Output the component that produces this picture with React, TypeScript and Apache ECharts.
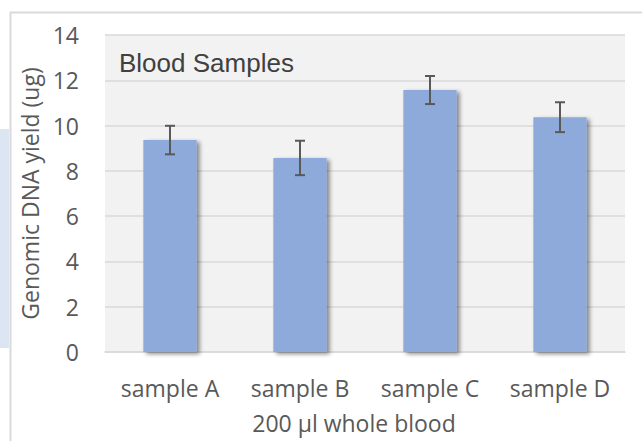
import React, { useEffect, useRef } from "react";
import * as echarts from "echarts";

const categories = ["sample A", "sample B", "sample C", "sample D"];
const yields = [9.36, 8.57, 11.57, 10.37];
const errors = [0.63, 0.76, 0.62, 0.66];
const chartTitle = "Blood Samples";
const xAxisTitle = "200 µl whole blood";
const yAxisTitle = "Genomic DNA yield (ug)";

export default function App() {
  const ref = useRef<HTMLDivElement>(null);
  useEffect(() => {
    if (!ref.current) return;
    const chart = echarts.init(ref.current, undefined, { renderer: "svg" });
    const errData = categories.map((_, i) => [i, yields[i] - errors[i], yields[i] + errors[i]]);
    const font = "'Open Sans', sans-serif";
    chart.setOption({
      animation: false,
      backgroundColor: "#ffffff",
      graphic: [
        { type: "rect", shape: { x: 0, y: 129, width: 9, height: 219 }, style: { fill: "#dce6f2" }, z: -10 },
        { type: "line", shape: { x1: 10.5, y1: 12, x2: 10.5, y2: 441 }, style: { stroke: "#d9d9d9", lineWidth: 2 } },
        { type: "line", shape: { x1: 10, y1: 12.5, x2: 642, y2: 12.5 }, style: { stroke: "#d9d9d9", lineWidth: 2 } },
        {
          type: "text",
          x: 119,
          y: 63,
          z: 10,
          style: {
            text: chartTitle,
            fill: "#404040",
            font: "26px 'Liberation Sans', Arial, sans-serif",
            textVerticalAlign: "middle",
          },
        },
      ],
      grid: {
        left: 105,
        right: 17,
        top: 35,
        bottom: 89,
        show: true,
        backgroundColor: "#f2f2f2",
        borderWidth: 0,
      },
      xAxis: {
        type: "category",
        data: categories,
        name: xAxisTitle,
        nameLocation: "middle",
        nameGap: 59,
        nameTextStyle: { color: "#595959", fontSize: 23, fontFamily: font, padding: [0, 22, 0, 0] },
        axisLine: { show: true, lineStyle: { color: "#d9d9d9", width: 1.5 } },
        axisTick: { show: false },
        axisLabel: { color: "#595959", fontSize: 23, fontFamily: font, margin: 24, interval: 0, hideOverlap: false },
      },
      yAxis: {
        type: "value",
        min: 0,
        max: 14,
        interval: 2,
        name: yAxisTitle,
        nameLocation: "middle",
        nameGap: 61,
        nameTextStyle: { color: "#595959", fontSize: 23, fontFamily: font },
        axisLine: { show: false },
        axisTick: { show: false },
        axisLabel: { color: "#595959", fontSize: 23, fontFamily: font, margin: 26 },
        splitLine: { show: true, lineStyle: { color: "#d9d9d9", width: 1.5 } },
      },
      series: [
        {
          type: "bar",
          data: yields,
          barWidth: "41%",
          itemStyle: {
            color: "#8eaadb",
            shadowColor: "rgba(0,0,0,0.45)",
            shadowBlur: 4,
            shadowOffsetX: 3,
            shadowOffsetY: 2,
          },
        },
        {
          type: "custom",
          data: errData,
          encode: { x: 0, y: [1, 2] },
          z: 5,
          renderItem: (params: any, api: any) => {
            const x = api.value(0);
            const lo = api.coord([x, api.value(1)]);
            const hi = api.coord([x, api.value(2)]);
            const half = 5;
            const style = { stroke: "#595959", lineWidth: 2 };
            return {
              type: "group",
              children: [
                { type: "line", shape: { x1: hi[0], y1: hi[1], x2: lo[0], y2: lo[1] }, style },
                { type: "line", shape: { x1: hi[0] - half, y1: hi[1], x2: hi[0] + half, y2: hi[1] }, style },
                { type: "line", shape: { x1: lo[0] - half, y1: lo[1], x2: lo[0] + half, y2: lo[1] }, style },
              ],
            };
          },
        },
      ],
    });
    return () => chart.dispose();
  }, []);
  return (
    <div
      ref={ref}
      style={{ position: "fixed", left: 0, top: 0, width: 642, height: 441 }}
    />
  );
}
